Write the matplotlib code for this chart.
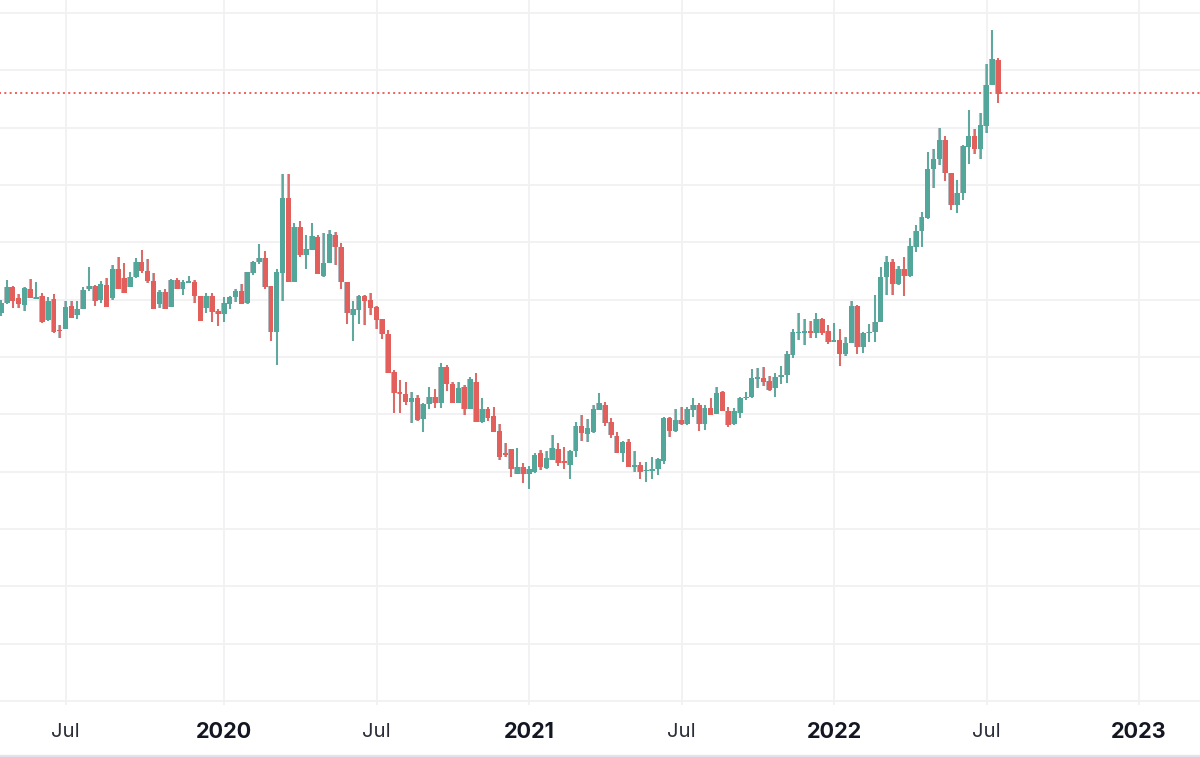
#!/usr/bin/env python3
# weekly candles, price axis hidden, only gridlines + time labels
import numpy as np
import matplotlib; matplotlib.use("Agg")
import matplotlib.pyplot as plt

W, H, DPI = 1200, 757, 100
UP, DOWN = "#53a69a", "#e25f5b"
GRID = "#f1f1f4"

direction = ("ggrrgrgrgr" "rgrgggrgrg" "rrggrrrgrg" "rggrrgrrgg" "grgggrrggr"
             "grggrggrrr" "ggrrrrrrrr" "grggrgrrgr" "grgrrrrrgr" "ggrggrrggr"
             "gggrrrgrgr" "ggggrgrggr" "grgrrggggg" "rrggggggrg" "rrgrggrggg"
             "ggrgrggggg" "grrgggrggg" "r")
highs = [401, 421, 415, 407, 413.7, 421.7, 419.3, 407.7, 403.7, 407,
         376, 400.3, 400.3, 400, 414.3, 434.3, 416, 420.3, 423.3, 436,
         443.7, 437.7, 429.3, 442.7, 451, 441.7, 427.7, 411, 411.7, 421.7,
         422.7, 421, 425, 421, 405, 407.7, 407.7, 391.7, 404.3, 405,
         411.7, 417, 429, 440.3, 457, 450.3, 415, 431.7, 527, 527,
         478.3, 480, 466, 478.3, 465.7, 467.7, 471, 469, 457.7, 419.3,
         400, 406.3, 405.7, 408.3, 395, 382.3, 371, 331, 321, 319,
         309, 306, 297.7, 313.7, 311.7, 338.3, 336, 319, 319, 315.7,
         323.7, 327.7, 302.7, 294.3, 293.7, 276.7, 258.3, 252.3, 253, 237.7,
         235, 247.7, 251, 249.7, 265.7, 257.7, 253.7, 251, 279.3, 286.3,
         282.3, 296, 307.7, 299.3, 282.7, 269.3, 259.7, 261.7, 250.3, 239.3,
         239, 243.7, 243, 284.3, 283.7, 291.7, 294.3, 294.3, 302.7, 297.7,
         296, 302.7, 314.3, 309.7, 293.7, 292.7, 303.7, 309.3, 332.3, 332.7,
         334.3, 325, 327.7, 335, 350.3, 371.7, 388.3, 381.7, 380.3, 387.7,
         383, 376, 377.7, 372, 363.7, 400.3, 396.3, 369.3, 376.7, 406,
         433.7, 445, 442.3, 435, 443.7, 463, 476, 489.3, 549, 551.7,
         573, 565, 528.3, 521, 555.7, 591, 572, 587.7, 637, 671,
         642.7]
body_tops = [397.7, 413.7, 413.7, 402.7, 412.7, 411.7, 403.3, 405, 400, 401.7,
             371, 393.7, 395, 392, 411, 415, 415.3, 416.7, 416, 431.7,
             431.7, 422.7, 423.7, 438.7, 438.7, 430.3, 420.3, 409, 409.3, 421,
             421, 419.3, 419.3, 419, 405, 405, 405, 390, 397.7, 404.3,
             410, 410, 429, 439, 443, 443, 415, 429, 502.7, 502.7,
             473.7, 473.7, 452.3, 465, 463.7, 437.7, 466.7, 466.3, 453.7, 419.3,
             391.7, 405, 405, 401, 394, 381.7, 366.7, 329, 309, 307,
             302.7, 302.7, 297, 304.3, 304.3, 334.3, 334.3, 317, 313.3, 314.3,
             321.7, 319, 292.3, 292, 285, 270, 248, 252, 233.7, 234,
             231.7, 246, 247.7, 243, 253, 252.3, 239.7, 249.7, 275, 275,
             273, 291.7, 298, 295.7, 279, 265, 259, 259.3, 235.7, 235.7,
             231, 232.3, 241.7, 283, 283, 281, 281, 291.7, 296, 296.3,
             293, 293, 308.3, 308.7, 290.3, 289.7, 303, 304.3, 322.7, 323.7,
             323.3, 320.3, 323.7, 326, 347, 368.7, 369.3, 370.3, 370.3, 382.3,
             382, 370, 361, 361, 358.3, 395, 395, 367.7, 369.3, 379,
             424.3, 439, 439, 431.7, 431.7, 455, 470, 484, 532.3, 542.3,
             561.3, 561, 527.7, 508.3, 555, 565, 565, 575.7, 616, 641.7,
             641]
body_bots = [387.7, 397.7, 400.3, 397, 395.7, 402.7, 402, 379.3, 381, 369.3,
             369.7, 372.3, 383.3, 386, 392.3, 412, 400, 401, 394.3, 402.7,
             411.7, 408.3, 414.3, 424.3, 430.3, 420, 392.3, 396.7, 392.3, 393.7,
             411.7, 412, 418, 405, 380.3, 393, 389, 387, 387, 397,
             403.7, 397, 397.7, 428.3, 439, 414.3, 369, 369, 428.3, 419,
             419, 446, 446, 451, 427, 425, 438.3, 453.7, 419, 388.3,
             385.7, 391, 400.3, 393, 381, 367, 328.3, 308.3, 307, 299,
             299.3, 281, 281.7, 296.7, 297.7, 297.7, 316.7, 298.3, 298.3, 292,
             292.3, 279.3, 279.3, 283.3, 269.3, 244.3, 246.3, 232, 227, 227,
             227, 229.3, 233.7, 233, 241, 238.3, 237.7, 236, 249.7, 267.7,
             267, 269, 291, 278.3, 266, 248.3, 248.3, 233.7, 233.7, 229.3,
             229.7, 230.3, 231.7, 240.3, 270, 270, 277, 277, 291, 277,
             277, 286.3, 287, 290, 276.3, 276.7, 288.3, 302.7, 303.7, 321.7,
             319, 311, 313, 323.7, 326.3, 346.3, 367.7, 367.7, 367.7, 367.7,
             367.7, 359, 359.3, 347, 347, 358.3, 354.3, 354.3, 367.7, 369,
             379, 424.3, 417, 417, 425, 425, 454.3, 469.7, 483, 531.7,
             542, 527.7, 495.7, 495.7, 507.7, 554.3, 552.3, 552.3, 575, 615.7,
             607]
lows = [385, 397, 393.3, 393.3, 390.3, 402.7, 402, 377.7, 380, 367.7,
        363.3, 372.3, 383.3, 382.3, 392.3, 410.3, 395, 397.7, 393.7, 401,
        411.7, 408.3, 413.7, 422.7, 427.7, 417.7, 392.3, 393, 392.3, 393.7,
        411.7, 405.7, 417.7, 398.3, 380.3, 387.7, 379, 375, 379, 392.3,
        399, 397, 397, 426.3, 437, 412.3, 360.3, 336.3, 400.3, 419,
        419, 444.3, 431.7, 451, 427, 424.3, 437.7, 436.3, 411.7, 377,
        360.3, 377, 375.7, 385.7, 372.3, 362.3, 328.3, 287.7, 287.7, 296.3,
        278.3, 280.3, 269.3, 291.7, 293, 293, 310.3, 298.3, 298.3, 286.3,
        292.3, 279.3, 278.3, 279.7, 269.3, 241, 243.7, 223.7, 227, 218.3,
        211.7, 228.3, 231, 231.7, 241, 235, 232.3, 222.3, 244.3, 260.3,
        259.3, 268.3, 291, 275, 263, 248.3, 239, 233.7, 229, 221.7,
        219, 221.7, 226.3, 237, 264.3, 269, 276.3, 276.3, 283.7, 270.3,
        271, 286, 287, 290, 273.7, 276, 283, 301, 303, 312.7,
        315, 310.3, 304.3, 317, 318.3, 343, 361, 356, 363, 363,
        366.3, 357, 359, 335, 345, 357.7, 347, 347.7, 359.3, 359.3,
        379, 406, 406.3, 416, 405, 424.3, 449, 454.3, 482, 512.7,
        536, 520, 491, 488.3, 501, 537.3, 547, 542.3, 568.3, 615.7,
        598.3]
grid_levels = np.arange(13) * 57.33
last_price = 608
tick_weeks = [11, 38, 64, 90, 116, 142, 168, 194]
tick_labels = ["Jul", "2020", "Jul", "2021", "Jul", "2022", "Jul", "2023"]

weeks = np.arange(len(direction))
up = np.array([d == "g" for d in direction])
colors = [UP if u else DOWN for u in up]
highs, lows = np.array(highs), np.array(lows)
body_tops, body_bots = np.array(body_tops), np.array(body_bots)
body_h = np.maximum(body_tops - body_bots, 1.6)

fig = plt.figure(figsize=(W / DPI, H / DPI), dpi=DPI)
ax = fig.add_axes([0, 0, 1, 1])
ax.set_xlim(-1.2 / 5.865, (W - 1.2) / 5.865)
ax.set_ylim(-56, 701)
ax.axis("off")

# grid: verticals poke a few px under the bottom line, like tick marks
ax.hlines(grid_levels, -5, 210, color=GRID, linewidth=1.3, zorder=1)
ax.vlines(tick_weeks, -4, 701, color=GRID, linewidth=1.3, zorder=1)
ax.hlines(-54.5, -5, 210, color="#e0e3eb", linewidth=1.6, zorder=1)

ax.plot([-5, 210], [last_price, last_price], color="#ef5350", linewidth=1.3,
        linestyle=(0, (1.1, 1.85)), zorder=2)

# grey underlay gives the soft fringe the candles have in the original
ax.vlines(weeks - 0.06, lows, highs, color="#b5b8bc", linewidth=1.5, zorder=3)
ax.bar(weeks - 0.07, body_h, 0.9, bottom=body_bots, color="#b5b8bc", zorder=3)
ax.vlines(weeks, lows, highs, color=colors, linewidth=1.25, zorder=4)
ax.bar(weeks, body_h, 0.84, bottom=body_bots, color=colors, zorder=5)

for wk, lab in zip(tick_weeks, tick_labels):
    is_year = lab.isdigit()
    ax.text(wk, -31, lab, family="Inter", fontsize=15.6 if is_year else 14.6,
            fontweight="bold" if is_year else "normal",
            color="#131722" if is_year else "#2a2e39", ha="center", va="center")

fig.savefig("out.png", dpi=DPI, facecolor="white")
